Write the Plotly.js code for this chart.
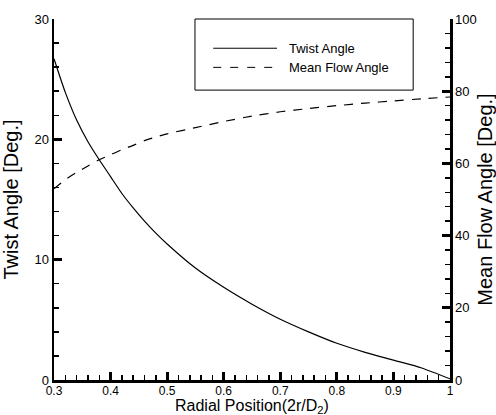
<!DOCTYPE html>
<html>
<head>
<meta charset="utf-8">
<script src="https://cdn.plot.ly/plotly-3.0.1.min.js"></script>
<style>html,body{margin:0;padding:0;background:#fff;}#chart{width:496px;height:415px;}</style>
</head>
<body>
<div id="chart"></div>
<script>
const radialPos  = [0.30, 0.32, 0.34, 0.36, 0.38, 0.40, 0.42, 0.44, 0.46, 0.48, 0.50, 0.55, 0.60, 0.65, 0.70, 0.75, 0.80, 0.85, 0.90, 0.95, 1.00];
const twistAngle = [26.7, 23.9, 21.6, 19.8, 18.3, 16.9, 15.5, 14.3, 13.2, 12.2, 11.3, 9.3, 7.7, 6.3, 5.05, 4.0, 3.05, 2.3, 1.65, 1.0, 0.1];
const flowAngle  = [53.0, 55.5, 57.5, 59.3, 61.0, 62.4, 63.8, 65.0, 66.3, 67.3, 68.2, 69.9, 71.6, 73.1, 74.3, 75.2, 76.0, 76.7, 77.3, 77.9, 78.4];
const seriesNames = ["Twist Angle", "Mean Flow Angle"];
const xTitle = "Radial Position(2r/D<sub>2</sub>)";
const yTitle = "Twist Angle [Deg.]";
const y2Title = "Mean Flow Angle [Deg.]";

const xRange = [0.3, 1], xMajor = 0.1, xMinor = 0.02;
const yRange = [0, 30], yMajor = 10, yMinor = 2;
const y2Range = [0, 100], y2Major = 20, y2Minor = 4;

const FONT = "Liberation Sans, Arial, sans-serif";
const W = 496, H = 415, M = {l: 54, r: 46, t: 19, b: 35};
const plotW = W - M.l - M.r, plotH = H - M.t - M.b;

const traces = [
  {x: radialPos, y: twistAngle, name: seriesNames[0], type: "scatter", mode: "lines",
   line: {color: "#000", width: 1.2, shape: "spline", smoothing: 0.6}, yaxis: "y"},
  {x: radialPos, y: flowAngle, name: seriesNames[1], type: "scatter", mode: "lines",
   line: {color: "#000", width: 1.2, dash: "9px,8px", shape: "spline", smoothing: 0.6}, yaxis: "y2"}
];

// legend box with sample lines and labels
const lgX0 = 0.356, lgX1 = 0.907, lgY0 = 0.803, lgY1 = 1.0;
const rowY = [0.919, 0.866];
const shapes = [
  {type: "rect", xref: "paper", yref: "paper", x0: lgX0, x1: lgX1, y0: lgY0, y1: lgY1,
   line: {color: "#000", width: 1}, fillcolor: "rgba(0,0,0,0)"},
  {type: "line", xref: "paper", yref: "paper", x0: 0.402, x1: 0.563, y0: rowY[0], y1: rowY[0],
   line: {color: "#000", width: 1}},
  {type: "line", xref: "paper", yref: "paper", x0: 0.402, x1: 0.563, y0: rowY[1], y1: rowY[1],
   line: {color: "#000", width: 1, dash: "8px,9px"}}
];
const annotations = seriesNames.map((n, i) => ({
  xref: "paper", yref: "paper", x: 0.588, y: rowY[i], xanchor: "left", yanchor: "middle",
  text: n, showarrow: false, font: {family: FONT, size: 13, color: "#000"}
}));
annotations.push({
  xref: "paper", yref: "paper", x: 0.5, y: -(406 - (M.t + plotH)) / plotH, xanchor: "center", yanchor: "middle",
  text: xTitle, showarrow: false, font: {family: FONT, size: 16, color: "#000"}
});

function axisBase(extra) {
  return Object.assign({
    showgrid: false, zeroline: false,
    showline: true, linecolor: "black", linewidth: 2.5,
    ticks: "inside", ticklen: 8, tickwidth: 3, tickcolor: "black",
    showticklabels: true
  }, extra);
}
function minorTicks(step) {
  return {dtick: step, ticks: "inside", ticklen: 5, tickwidth: 1.5, tickcolor: "black", showgrid: false};
}

const layout = {
  width: W, height: H,
  margin: M,
  paper_bgcolor: "white", plot_bgcolor: "white",
  showlegend: false,
  font: {family: FONT, size: 12, color: "black"},
  xaxis: axisBase({
    range: xRange, dtick: xMajor, tick0: xRange[0], minor: minorTicks(xMinor),
    tickfont: {family: FONT, size: 12}, ticklabelstandoff: -2
  }),
  yaxis: axisBase({
    range: yRange, dtick: yMajor, minor: minorTicks(yMinor),
    tickfont: {family: FONT, size: 13},
    title: {text: yTitle, font: {family: FONT, size: 20}}
  }),
  yaxis2: axisBase({
    range: y2Range, dtick: y2Major, minor: minorTicks(y2Minor),
    overlaying: "y", side: "right", anchor: "x",
    tickfont: {family: FONT, size: 13},
    title: {text: y2Title, font: {family: FONT, size: 20}}
  }),
  shapes: shapes,
  annotations: annotations
};

Plotly.newPlot("chart", traces, layout, {staticPlot: true, displayModeBar: false});
</script>
</body>
</html>
